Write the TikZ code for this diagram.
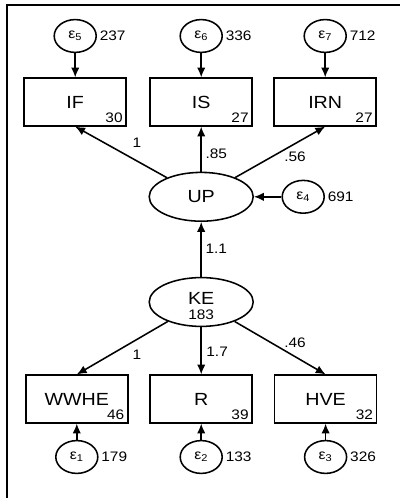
\documentclass[tikz,border=0pt]{standalone}
\usepackage{fontspec}
\setmainfont{Liberation Sans}[FakeStretch=1.12]
\usetikzlibrary{shapes.geometric, arrows.meta}

\begin{document}
\begin{tikzpicture}[
    every node/.style={font=\fontsize{12.5}{14}\selectfont},
    observada/.style={draw, line width=1.1pt, minimum width=2.55cm, minimum height=1.19cm},
    latente/.style={draw, ellipse, line width=1.1pt, minimum width=2.6cm, minimum height=1.22cm},
    error/.style={draw, ellipse, line width=1.1pt, minimum width=1.05cm, minimum height=0.82cm, inner sep=0pt, font=\fontsize{10}{11}\selectfont},
    num/.style={font=\fontsize{9.8}{11}\selectfont, inner sep=1.5pt},
    flecha/.style={-{Latex[length=7pt,width=6pt]}, line width=1.1pt}
]
\useasboundingbox (0,0) rectangle (10,12.45);
% Marco
\draw[line width=0.9pt] (0.175,0) -- (0.175,12.325) -- (10,12.325);
% Indicadores de UP
\node[observada] (IF) at (1.88,9.9) {IF};
\node[observada] (IS) at (5.03,9.9) {IS};
\node[observada] (IRN) at (8.13,9.9) {IRN};
\node[num, anchor=south east] (IFn) at ([shift={(-0.05,0.05)}]IF.south east) {30};
\node[num, anchor=south east] (ISn) at ([shift={(-0.05,0.05)}]IS.south east) {27};
\node[num, anchor=south east] (IRNn) at ([shift={(-0.05,0.05)}]IRN.south east) {27};
% Errores superiores
\node[error] (e5) at (1.88,11.55) {ε\textsubscript{5}};
\node[error] (e6) at (5.03,11.55) {ε\textsubscript{6}};
\node[error] (e7) at (8.13,11.55) {ε\textsubscript{7}};
\node[num, anchor=west] (e5v) at ([xshift=0.01cm]e5.east) {237};
\node[num, anchor=west] (e6v) at ([xshift=0.01cm]e6.east) {336};
\node[num, anchor=west] (e7v) at ([xshift=0.01cm]e7.east) {712};
% Latentes
\node[latente] (UP) at (5.03,7.53) {UP};
\node[error] (e4) at (7.58,7.53) {ε\textsubscript{4}};
\node[num, anchor=west] (e4v) at ([xshift=0.01cm]e4.east) {691};
\node[latente] (KE) at (5.03,4.9) {};
\node (KEt) at (5.03,4.98) {KE};
\node[num] (KEn) at (5.03,4.57) {183};
% Indicadores de KE
\node[observada] (WWHE) at (1.92,2.475) {WWHE};
\node[observada] (R) at (5.03,2.475) {R};
\node[observada] (HVE) at (8.14,2.475) {HVE};
\node[num, anchor=south east] (WWHEn) at ([shift={(-0.05,0.05)}]WWHE.south east) {46};
\node[num, anchor=south east] (Rn) at ([shift={(-0.05,0.05)}]R.south east) {39};
\node[num, anchor=south east] (HVEn) at ([shift={(-0.05,0.05)}]HVE.south east) {32};
% Errores inferiores
\node[error] (e1) at (1.92,1.025) {ε\textsubscript{1}};
\node[error] (e2) at (5.03,1.025) {ε\textsubscript{2}};
\node[error] (e3) at (8.14,1.025) {ε\textsubscript{3}};
\node[num, anchor=west] (e1v) at ([xshift=0.01cm]e1.east) {179};
\node[num, anchor=west] (e2v) at ([xshift=0.01cm]e2.east) {133};
\node[num, anchor=west] (e3v) at ([xshift=0.01cm]e3.east) {326};
% Aristas
\draw[flecha] (e5) to (IF);
\draw[flecha] (e6) to (IS);
\draw[flecha] (e7) to (IRN);
\draw[flecha] (UP) to (IF.south);
\draw[flecha] (UP) to (IS);
\draw[flecha] (UP) to (IRN.south);
\draw[flecha] (e4) to (UP);
\draw[flecha] (KE) to (UP);
\draw[flecha] (KE) to (WWHE.north);
\draw[flecha] (KE) to (R);
\draw[flecha] (KE) to (HVE.north);
\draw[flecha] (e1) to (WWHE);
\draw[flecha] (e2) to (R);
\draw[flecha] (e3) to (HVE);
% Coeficientes
\node[num] (c1) at (3.425,8.875) {1};
\node[num, anchor=west] (c2) at (5.08,8.6) {.85};
\node[num] (c3) at (7.375,8.525) {.56};
\node[num, anchor=west] (c4) at (5.08,6.225) {1.1};
\node[num] (c5) at (3.425,3.575) {1};
\node[num, anchor=west] (c6) at (5.1,3.65) {1.7};
\node[num] (c7) at (7.375,3.875) {.46};
\end{tikzpicture}
\end{document}
